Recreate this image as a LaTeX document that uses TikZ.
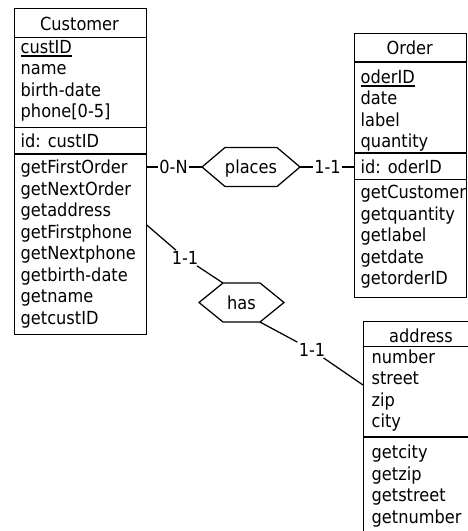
\documentclass[tikz,border=0pt]{standalone}
\usepackage{fontspec}
\setmainfont{DejaVu Sans}[FakeStretch=0.9]

% identifier attributes are underlined with a solid bar
\newcommand\keyattr[1]{\setbox0\hbox{#1}\rlap{\rule[-3.4pt]{\wd0}{1.7pt}}\box0}

\tikzset{
  entity/.style={draw, line width=1.25pt, anchor=north west, inner sep=0pt},
  sep/.style={line width=1.25pt},
  row/.style={anchor=west, inner sep=0pt, text height=13pt, text depth=0pt},
  title/.style={anchor=center, inner sep=0pt, text height=13pt, text depth=0pt},
  card/.style={inner sep=1.2pt, text height=13pt, text depth=0pt},
  reltext/.style={inner sep=0pt, text height=13pt, text depth=0pt},
  rel/.style={line width=1.25pt, line join=miter},
  link/.style={line width=1.25pt},
}

\begin{document}
\begin{tikzpicture}[x=1pt, y=-1pt, font=\fontsize{18}{21.5}\selectfont]
\useasboundingbox (0,0) rectangle (467,531);

% ---------- Customer ----------
\node[entity, minimum width=132pt, minimum height=326.5pt] (cust) at (13.5,7.5) {};
\draw[sep] (cust.west |- 0,37.5) -- (cust.east |- 0,37.5);
\draw[sep] (cust.west |- 0,127.5) -- (cust.east |- 0,127.5);
\draw[sep] (cust.west |- 0,154) -- (cust.east |- 0,154);
\node[title] (cust-t) at (79.5,24) {Customer};
\foreach \t [count=\i] in {{\keyattr{custID}}, name, birth-date, phone[0-5]}
  \node[row] (cust-a\i) at (20.5, 47+21.4*\i-21.4) {\t};
\node[row] (cust-id) at (20.5,140.5) {id: custID};
\foreach \t [count=\i] in {getFirstOrder, getNextOrder, getaddress, getFirstphone,
    getNextphone, getbirth-date, getname, getcustID}
  \node[row] (cust-m\i) at (20.5, 167+21.55*\i-21.55) {\t};

% ---------- Order ----------
\node[entity, minimum width=111.5pt, minimum height=264pt] (order) at (354,33) {};
\draw[sep] (order.west |- 0,62) -- (order.east |- 0,62);
\draw[sep] (order.west |- 0,153) -- (order.east |- 0,153);
\draw[sep] (order.west |- 0,179.5) -- (order.east |- 0,179.5);
\node[title] (order-t) at (409.75,48) {Order};
\foreach \t [count=\i] in {{\keyattr{oderID}}, date, label, quantity}
  \node[row] (order-a\i) at (360.5, 77+21.35*\i-21.35) {\t};
\node[row] (order-id) at (360.5,167) {id: oderID};
\foreach \t [count=\i] in {getCustomer, getquantity, getlabel, getdate, getorderID}
  \node[row] (order-m\i) at (360.5, 192+21.5*\i-21.5) {\t};

% ---------- address ----------
\node[entity, minimum width=116pt, minimum height=230pt] (addr) at (363,321) {};
\draw[sep] (addr.west |- 0,346.5) -- (addr.east |- 0,346.5);
\draw[sep] (addr.west |- 0,437) -- (addr.east |- 0,437);
\node[title] (addr-t) at (421,335.5) {address};
\foreach \t [count=\i] in {number, street, zip, city}
  \node[row] (addr-a\i) at (371.5, 357+21.35*\i-21.35) {\t};
\foreach \t [count=\i] in {getcity, getzip, getstreet, getnumber}
  \node[row] (addr-m\i) at (371.5, 452+21.6*\i-21.6) {\t};

% ---------- relationship: places ----------
\node[reltext] (places) at (251,167) {places};
\draw[rel] (places.center) ++(-49,0) coordinate (places-w)
  -- ++(23,-19.5) -- ++(52,0) -- ++(23,19.5) coordinate (places-e)
  -- ++(-23,19.5) -- ++(-52,0) -- cycle;

% ---------- relationship: has ----------
\node[reltext] (has) at (241.5,302.5) {has};
\draw[rel] (has.center) ++(-42.5,0) coordinate (has-w)
  -- ++(24,-19.5) coordinate (has-nw) -- ++(37,0) -- ++(24,19.5)
  -- ++(-24,19.5) coordinate (has-se) -- ++(-37,0) -- cycle;

% ---------- cardinality labels ----------
\node[card] (card1) at (173.5,167) {0-N};
\node[card] (card2) at (327.5,167) {1-1};
\node[card] (card3) at (185,258) {1-1};
\node[card] (card4) at (312,350) {1-1};

% ---------- connectors ----------
\coordinate (custHas) at (cust.east |- 0,225);
\coordinate (addrHas) at (addr.west |- 0,385);
\draw[link] (cust.east |- cust-m1) -- (card1) -- (places-w);
\draw[link] (places-e) -- (card2) -- (order.west |- order-id);
\draw[link] (custHas) -- (card3) -- (has-nw);
\draw[link] (has-se) -- (card4) -- (addrHas);
\end{tikzpicture}
\end{document}
